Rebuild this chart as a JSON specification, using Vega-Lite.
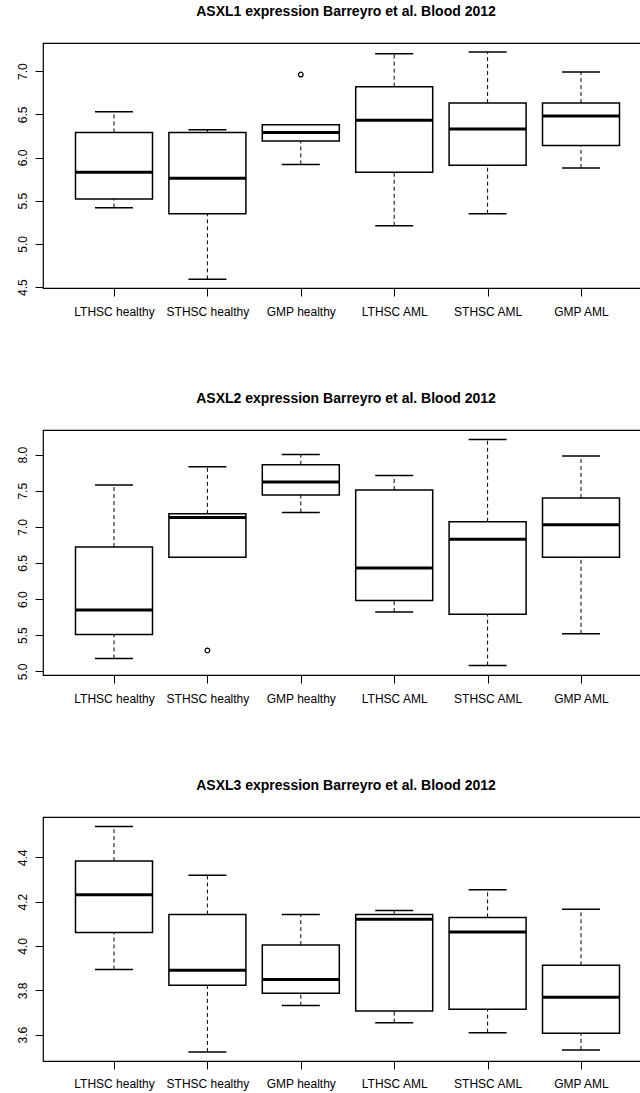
{
  "$schema": "https://vega.github.io/schema/vega-lite/v6.json",
  "padding": {"left": 0, "top": 4, "right": 0, "bottom": 0},
  "background": "white",
  "spacing": 72,
  "config": {
    "font": "Liberation Sans",
    "view": {"stroke": "black", "strokeWidth": 1.2},
    "axis": {"grid": false, "domain": false, "tickColor": "black", "labelColor": "black", "title": null, "labelFont": "Liberation Sans"},
    "tick": {"opacity": 1},
    "point": {"opacity": 1},
    "title": {"font": "Liberation Sans", "fontSize": 14, "fontWeight": "bold", "color": "black", "baseline": "alphabetic", "offset": 24, "anchor": "middle", "dx": 4}
  },
  "datasets": {
    "boxes": [
      {"gene": "ASXL1", "group": "LTHSC healthy", "lower": 5.42, "q1": 5.52, "median": 5.83, "q3": 6.29, "upper": 6.53},
      {"gene": "ASXL1", "group": "STHSC healthy", "lower": 4.59, "q1": 5.35, "median": 5.76, "q3": 6.29, "upper": 6.32},
      {"gene": "ASXL1", "group": "GMP healthy", "lower": 5.92, "q1": 6.19, "median": 6.29, "q3": 6.38, "upper": 6.38},
      {"gene": "ASXL1", "group": "LTHSC AML", "lower": 5.21, "q1": 5.83, "median": 6.43, "q3": 6.82, "upper": 7.20},
      {"gene": "ASXL1", "group": "STHSC AML", "lower": 5.35, "q1": 5.91, "median": 6.33, "q3": 6.63, "upper": 7.22},
      {"gene": "ASXL1", "group": "GMP AML", "lower": 5.88, "q1": 6.14, "median": 6.48, "q3": 6.63, "upper": 6.99},
      {"gene": "ASXL2", "group": "LTHSC healthy", "lower": 5.18, "q1": 5.51, "median": 5.85, "q3": 6.72, "upper": 7.58},
      {"gene": "ASXL2", "group": "STHSC healthy", "lower": 6.58, "q1": 6.58, "median": 7.13, "q3": 7.18, "upper": 7.83},
      {"gene": "ASXL2", "group": "GMP healthy", "lower": 7.20, "q1": 7.44, "median": 7.62, "q3": 7.86, "upper": 8.00},
      {"gene": "ASXL2", "group": "LTHSC AML", "lower": 5.82, "q1": 5.98, "median": 6.43, "q3": 7.51, "upper": 7.71},
      {"gene": "ASXL2", "group": "STHSC AML", "lower": 5.08, "q1": 5.79, "median": 6.83, "q3": 7.07, "upper": 8.21},
      {"gene": "ASXL2", "group": "GMP AML", "lower": 5.52, "q1": 6.58, "median": 7.03, "q3": 7.40, "upper": 7.98},
      {"gene": "ASXL3", "group": "LTHSC healthy", "lower": 3.894, "q1": 4.061, "median": 4.231, "q3": 4.383, "upper": 4.539},
      {"gene": "ASXL3", "group": "STHSC healthy", "lower": 3.522, "q1": 3.823, "median": 3.891, "q3": 4.142, "upper": 4.319},
      {"gene": "ASXL3", "group": "GMP healthy", "lower": 3.731, "q1": 3.787, "median": 3.849, "q3": 4.004, "upper": 4.142},
      {"gene": "ASXL3", "group": "LTHSC AML", "lower": 3.654, "q1": 3.707, "median": 4.121, "q3": 4.142, "upper": 4.160},
      {"gene": "ASXL3", "group": "STHSC AML", "lower": 3.609, "q1": 3.714, "median": 4.063, "q3": 4.129, "upper": 4.254},
      {"gene": "ASXL3", "group": "GMP AML", "lower": 3.531, "q1": 3.606, "median": 3.769, "q3": 3.913, "upper": 4.166}
    ],
    "outliers": [
      {"gene": "ASXL1", "group": "GMP healthy", "value": 6.96},
      {"gene": "ASXL2", "group": "STHSC healthy", "value": 5.29}
    ]
  },
  "vconcat": [
    {
      "title": {"text": "ASXL1 expression Barreyro et al. Blood 2012"},
      "width": 598,
      "height": 245,
      "encoding": {
        "x": {"field": "group", "type": "nominal", "scale": {"type": "point", "padding": 0, "domain": ["LTHSC healthy", "STHSC healthy", "GMP healthy", "LTHSC AML", "STHSC AML", "GMP AML"], "range": [71, 538]}, "axis": {"tickSize": 8, "labelFontSize": 12, "labelPadding": 10, "labelAngle": 0, "minExtent": 30, "maxExtent": 30}}
      },
      "layer": [
        {
          "data": {"name": "boxes"}, "transform": [{"filter": "datum.gene === 'ASXL1'"}],
          "layer": [
            {"mark": {"type": "rule", "strokeDash": [4, 3], "strokeWidth": 1, "color": "black"}, "encoding": {"y": {"field": "lower", "type": "quantitative", "scale": {"domain": [4.49, 7.325], "nice": false, "zero": false}, "axis": {"values": [4.5, 5, 5.5, 6, 6.5, 7], "format": ".1f", "tickSize": 8, "labelFontSize": 12, "labelAngle": -90, "labelPadding": 6, "minExtent": 42, "maxExtent": 42}}, "y2": {"field": "q1"}}},
            {"mark": {"type": "rule", "strokeDash": [4, 3], "strokeWidth": 1, "color": "black"}, "encoding": {"y": {"field": "q3", "type": "quantitative"}, "y2": {"field": "upper"}}},
            {"mark": {"type": "tick", "size": 38, "thickness": 1.5, "color": "black", "orient": "horizontal"}, "encoding": {"y": {"field": "lower", "type": "quantitative"}}},
            {"mark": {"type": "tick", "size": 38, "thickness": 1.5, "color": "black", "orient": "horizontal"}, "encoding": {"y": {"field": "upper", "type": "quantitative"}}},
            {"mark": {"type": "bar", "width": 77, "fill": "white", "stroke": "black", "strokeWidth": 1.5}, "encoding": {"y": {"field": "q1", "type": "quantitative"}, "y2": {"field": "q3"}}},
            {"mark": {"type": "tick", "size": 77, "thickness": 3, "color": "black", "orient": "horizontal"}, "encoding": {"y": {"field": "median", "type": "quantitative"}}}
          ]
        },
        {
          "data": {"name": "outliers"}, "transform": [{"filter": "datum.gene === 'ASXL1'"}],
          "mark": {"type": "point", "shape": "circle", "filled": false, "size": 22, "stroke": "black", "strokeWidth": 1.2},
          "encoding": {"y": {"field": "value", "type": "quantitative"}}
        }
      ]
    },
    {
      "title": {"text": "ASXL2 expression Barreyro et al. Blood 2012"},
      "width": 598,
      "height": 245,
      "encoding": {
        "x": {"field": "group", "type": "nominal", "scale": {"type": "point", "padding": 0, "domain": ["LTHSC healthy", "STHSC healthy", "GMP healthy", "LTHSC AML", "STHSC AML", "GMP AML"], "range": [71, 538]}, "axis": {"tickSize": 8, "labelFontSize": 12, "labelPadding": 10, "labelAngle": 0, "minExtent": 30, "maxExtent": 30}}
      },
      "layer": [
        {
          "data": {"name": "boxes"}, "transform": [{"filter": "datum.gene === 'ASXL2'"}],
          "layer": [
            {"mark": {"type": "rule", "strokeDash": [4, 3], "strokeWidth": 1, "color": "black"}, "encoding": {"y": {"field": "lower", "type": "quantitative", "scale": {"domain": [4.95, 8.34], "nice": false, "zero": false}, "axis": {"values": [5, 5.5, 6, 6.5, 7, 7.5, 8], "format": ".1f", "tickSize": 8, "labelFontSize": 12, "labelAngle": -90, "labelPadding": 6, "minExtent": 42, "maxExtent": 42}}, "y2": {"field": "q1"}}},
            {"mark": {"type": "rule", "strokeDash": [4, 3], "strokeWidth": 1, "color": "black"}, "encoding": {"y": {"field": "q3", "type": "quantitative"}, "y2": {"field": "upper"}}},
            {"mark": {"type": "tick", "size": 38, "thickness": 1.5, "color": "black", "orient": "horizontal"}, "encoding": {"y": {"field": "lower", "type": "quantitative"}}},
            {"mark": {"type": "tick", "size": 38, "thickness": 1.5, "color": "black", "orient": "horizontal"}, "encoding": {"y": {"field": "upper", "type": "quantitative"}}},
            {"mark": {"type": "bar", "width": 77, "fill": "white", "stroke": "black", "strokeWidth": 1.5}, "encoding": {"y": {"field": "q1", "type": "quantitative"}, "y2": {"field": "q3"}}},
            {"mark": {"type": "tick", "size": 77, "thickness": 3, "color": "black", "orient": "horizontal"}, "encoding": {"y": {"field": "median", "type": "quantitative"}}}
          ]
        },
        {
          "data": {"name": "outliers"}, "transform": [{"filter": "datum.gene === 'ASXL2'"}],
          "mark": {"type": "point", "shape": "circle", "filled": false, "size": 22, "stroke": "black", "strokeWidth": 1.2},
          "encoding": {"y": {"field": "value", "type": "quantitative"}}
        }
      ]
    },
    {
      "title": {"text": "ASXL3 expression Barreyro et al. Blood 2012"},
      "width": 598,
      "height": 244,
      "data": {"name": "boxes"},
      "transform": [{"filter": "datum.gene === 'ASXL3'"}],
      "encoding": {
        "x": {"field": "group", "type": "nominal", "scale": {"type": "point", "padding": 0, "domain": ["LTHSC healthy", "STHSC healthy", "GMP healthy", "LTHSC AML", "STHSC AML", "GMP AML"], "range": [71, 538]}, "axis": {"tickSize": 8, "labelFontSize": 12, "labelPadding": 9, "labelAngle": 0, "minExtent": 30, "maxExtent": 30}}
      },
      "layer": [
        {"mark": {"type": "rule", "strokeDash": [4, 3], "strokeWidth": 1, "color": "black"}, "encoding": {"y": {"field": "lower", "type": "quantitative", "scale": {"domain": [3.481, 4.582], "nice": false, "zero": false}, "axis": {"values": [3.6, 3.8, 4.0, 4.2, 4.4], "format": ".1f", "tickSize": 8, "labelFontSize": 12, "labelAngle": -90, "labelPadding": 6, "minExtent": 42, "maxExtent": 42}}, "y2": {"field": "q1"}}},
        {"mark": {"type": "rule", "strokeDash": [4, 3], "strokeWidth": 1, "color": "black"}, "encoding": {"y": {"field": "q3", "type": "quantitative"}, "y2": {"field": "upper"}}},
        {"mark": {"type": "tick", "size": 38, "thickness": 1.5, "color": "black", "orient": "horizontal"}, "encoding": {"y": {"field": "lower", "type": "quantitative"}}},
        {"mark": {"type": "tick", "size": 38, "thickness": 1.5, "color": "black", "orient": "horizontal"}, "encoding": {"y": {"field": "upper", "type": "quantitative"}}},
        {"mark": {"type": "bar", "width": 77, "fill": "white", "stroke": "black", "strokeWidth": 1.5}, "encoding": {"y": {"field": "q1", "type": "quantitative"}, "y2": {"field": "q3"}}},
        {"mark": {"type": "tick", "size": 77, "thickness": 3, "color": "black", "orient": "horizontal"}, "encoding": {"y": {"field": "median", "type": "quantitative"}}}
      ]
    }
  ]
}
